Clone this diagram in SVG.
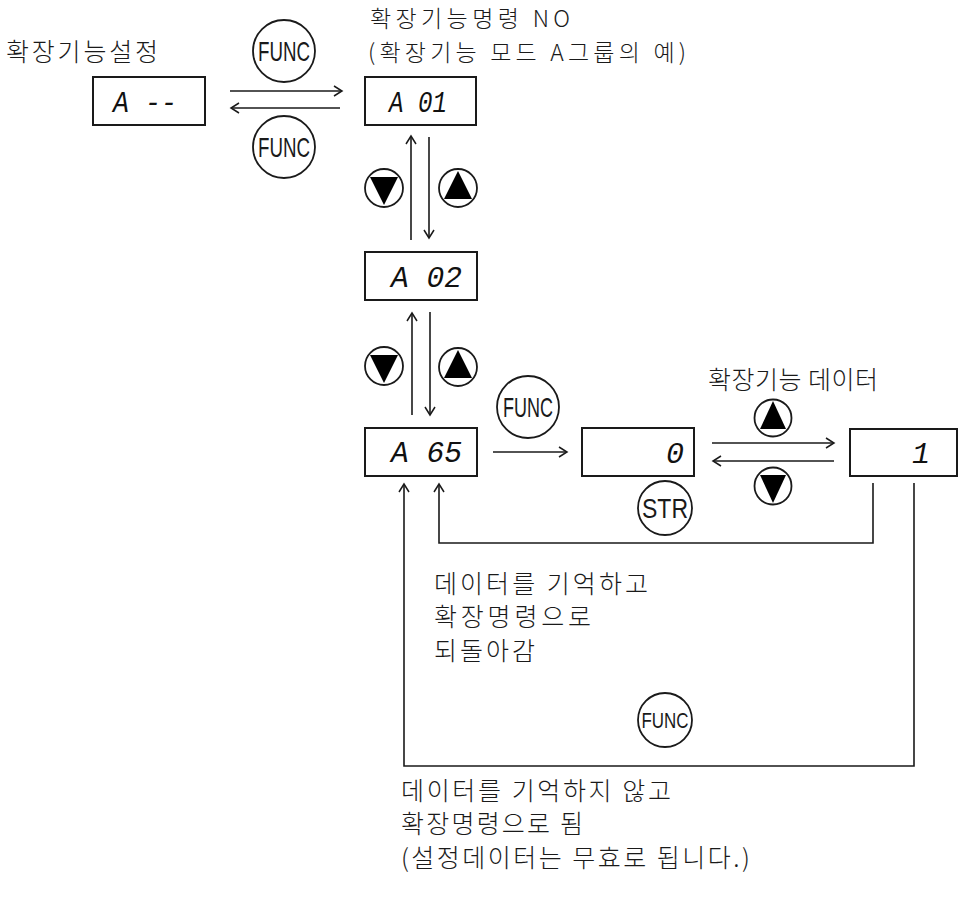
<svg xmlns="http://www.w3.org/2000/svg" width="960" height="898" viewBox="0 0 960 898">
<defs>
<style>
.box{fill:#fff;stroke:#1a1a1a;stroke-width:2}
.seg{font-family:"Liberation Mono","DejaVu Sans Mono",monospace;font-style:italic;font-size:30px;fill:#111}
.kr{font-family:"Noto Sans CJK KR","Noto Sans",sans-serif;font-size:25px;font-weight:300;fill:#1a1a1a}
.kt{font-size:23px}
.btn{fill:#fff;stroke:#1a1a1a;stroke-width:1.8}
.btxt{font-family:"Liberation Sans",Arial,sans-serif;fill:#1a1a1a;text-anchor:middle}
.tri{fill:#000}
.ln{fill:none;stroke:#1a1a1a;stroke-width:1.6}
</style>
<marker id="ah" markerUnits="userSpaceOnUse" markerWidth="12" markerHeight="12" refX="9" refY="6" orient="auto">
<path d="M1,1 L9,6 L1,11" fill="none" stroke="#1a1a1a" stroke-width="1.5"/>
</marker>
</defs>
<rect width="960" height="898" fill="#fff"/>

<g id="labels">
<text class="kr" x="6" y="61" textLength="152" lengthAdjust="spacing">확장기능설정</text>
<text class="kr kt" x="370" y="27" textLength="200" lengthAdjust="spacing">확장기능명령 NO</text>
<text class="kr kt" x="368" y="61" textLength="318" lengthAdjust="spacing">(확장기능 모드 A그룹의 예)</text>
<text class="kr" x="708" y="389" textLength="170" lengthAdjust="spacing">확장기능 데이터</text>
<text class="kr" x="434" y="593" textLength="214" lengthAdjust="spacing">데이터를 기억하고</text>
<text class="kr" x="434" y="626" textLength="157" lengthAdjust="spacing">확장명령으로</text>
<text class="kr" x="434" y="660" textLength="101" lengthAdjust="spacing">되돌아감</text>
<text class="kr" x="401" y="800" textLength="270" lengthAdjust="spacing">데이터를 기억하지 않고</text>
<text class="kr" x="401" y="833" textLength="182" lengthAdjust="spacing">확장명령으로 됨</text>
<text class="kr" x="401" y="867" textLength="349" lengthAdjust="spacing">(설정데이터는 무효로 됩니다.)</text>
</g>

<g id="node-a-dash">
<rect class="box" x="93" y="77" width="112" height="48"/>
<text class="seg" x="113" y="112" textLength="64" lengthAdjust="spacingAndGlyphs">A --</text>
</g>
<g id="node-a01">
<rect class="box" x="365" y="77" width="111" height="48"/>
<text class="seg" x="389" y="112" textLength="58" lengthAdjust="spacingAndGlyphs">A 01</text>
</g>
<g id="node-a02">
<rect class="box" x="365" y="252" width="112" height="48"/>
<text class="seg" x="391" y="287" textLength="71" lengthAdjust="spacingAndGlyphs">A 02</text>
</g>
<g id="node-a65">
<rect class="box" x="365" y="428" width="112" height="48"/>
<text class="seg" x="391" y="462" textLength="71" lengthAdjust="spacingAndGlyphs">A 65</text>
</g>
<g id="node-data0">
<rect class="box" x="582" y="428" width="112" height="48"/>
<text class="seg" x="666" y="463">0</text>
</g>
<g id="node-data1">
<rect class="box" x="850" y="429" width="107" height="47"/>
<text class="seg" x="912" y="463">1</text>
</g>

<g id="btn-func-1">
<circle class="btn" cx="284" cy="51" r="31"/>
<text class="btxt" x="284" y="61" font-size="28" textLength="52" lengthAdjust="spacingAndGlyphs">FUNC</text>
</g>
<g id="btn-func-2">
<circle class="btn" cx="284" cy="147" r="31"/>
<text class="btxt" x="284" y="157" font-size="28" textLength="52" lengthAdjust="spacingAndGlyphs">FUNC</text>
</g>
<g id="btn-func-3">
<circle class="btn" cx="528" cy="407" r="31"/>
<text class="btxt" x="528" y="417" font-size="28" textLength="50" lengthAdjust="spacingAndGlyphs">FUNC</text>
</g>
<g id="btn-func-4">
<circle class="btn" cx="665" cy="720" r="27"/>
<text class="btxt" x="665" y="728" font-size="22" textLength="47" lengthAdjust="spacingAndGlyphs">FUNC</text>
</g>
<g id="btn-str">
<circle class="btn" cx="665" cy="508" r="27"/>
<text class="btxt" x="665" y="518" font-size="28" textLength="46" lengthAdjust="spacingAndGlyphs">STR</text>
</g>

<g id="btn-down-1">
<circle class="btn" cx="384" cy="188" r="19"/>
<polygon class="tri" points="370,177 398,177 384,205"/>
</g>
<g id="btn-up-1">
<circle class="btn" cx="458" cy="188" r="19"/>
<polygon class="tri" points="458,171 444,199 472,199"/>
</g>
<g id="btn-down-2">
<circle class="btn" cx="384" cy="366" r="19"/>
<polygon class="tri" points="370,355 398,355 384,383"/>
</g>
<g id="btn-up-2">
<circle class="btn" cx="458" cy="367" r="19"/>
<polygon class="tri" points="458,350 444,378 472,378"/>
</g>
<g id="btn-up-3">
<circle class="btn" cx="773" cy="418" r="18.5"/>
<polygon class="tri" points="773,401 760,429 786,429"/>
</g>
<g id="btn-down-3">
<circle class="btn" cx="773" cy="486" r="18.5"/>
<polygon class="tri" points="760,475 786,475 773,503"/>
</g>

<g id="connectors">
<path class="ln" d="M230,91 H342" marker-end="url(#ah)"/>
<path class="ln" d="M340,108 H231" marker-end="url(#ah)"/>
<path class="ln" d="M411,240 V136" marker-end="url(#ah)"/>
<path class="ln" d="M429,137 V238" marker-end="url(#ah)"/>
<path class="ln" d="M412,415 V313" marker-end="url(#ah)"/>
<path class="ln" d="M430,312 V415" marker-end="url(#ah)"/>
<path class="ln" d="M493,452 H567" marker-end="url(#ah)"/>
<path class="ln" d="M712,443 H834" marker-end="url(#ah)"/>
<path class="ln" d="M834,461 H713" marker-end="url(#ah)"/>
<path class="ln" d="M873,483 V543 H439 V484" marker-end="url(#ah)"/>
<path class="ln" d="M914,483 V766 H404 V484" marker-end="url(#ah)"/>
</g>
</svg>
